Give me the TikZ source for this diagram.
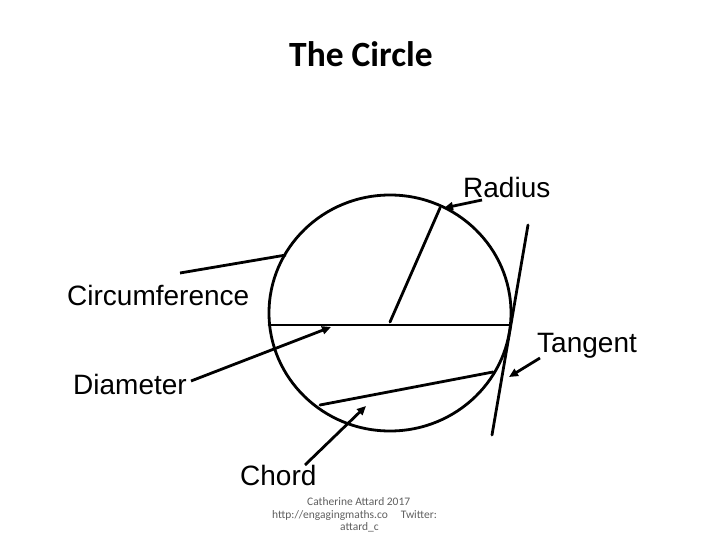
\documentclass[tikz,border=0pt]{standalone}
\usepackage{fontspec}
\setmainfont{Liberation Sans}
\newfontfamily\calibri{Carlito}
\usetikzlibrary{arrows.meta}
\definecolor{footgray}{RGB}{95,95,95}
\tikzset{
  shape line/.style={line width=2.8pt, line cap=round},
  pointer/.style={line width=2.8pt, -{Triangle[length=9pt,width=8pt]}},
  plainpointer/.style={line width=2.8pt},
  lbl/.style={anchor=base west, inner sep=0pt, font=\fontsize{28}{30}\selectfont},
  foot/.style={anchor=base west, inner sep=0pt, text=footgray, font=\calibri\fontsize{11.5}{13}\selectfont},
}
\begin{document}
\begin{tikzpicture}[x=1pt,y=-1pt]
\useasboundingbox (0,0) rectangle (720,540);
% title
\node[anchor=base west, inner sep=0pt, font=\calibri\bfseries\fontsize{35.5}{40}\selectfont] (title) at (289,67) {The Circle};
% circle
\coordinate (c) at (390,313);
\draw[shape line] (c) ellipse[x radius=121pt, y radius=118pt];
% diameter
\coordinate (dL) at (269,325);
\coordinate (dR) at (509,325);
\draw[shape line] (dL) -- (dR);
% radius
\coordinate (r0) at (390,322);
\coordinate (r1) at (440,208);
\draw[shape line] (r0) -- (r1);
% chord
\coordinate (ch0) at (320,405);
\coordinate (ch1) at (493,372);
\draw[shape line] (ch0) -- (ch1);
% tangent
\coordinate (t0) at (528,225);
\coordinate (t1) at (492,435);
\draw[shape line] (t0) -- (t1);
% labels
\node[lbl] (radius) at (463,197) {Radius};
\node[lbl] (circ) at (67,305) {Circumference};
\node[lbl] (tangent) at (537,352) {Tangent};
\node[lbl] (diam) at (73,394) {Diameter};
\node[lbl] (chord) at (240,485) {Chord};
% pointers
\coordinate (pr0) at (482,200);
\coordinate (pr1) at (444,208);
\draw[pointer] (pr0) -- (pr1);
\coordinate (pc0) at (180,273);
\coordinate (pc1) at (286,255);
\draw[plainpointer] (pc0) -- (pc1);
\coordinate (pd0) at (191,381);
\coordinate (pd1) at (331,327);
\draw[pointer] (pd0) -- (pd1);
\coordinate (pch0) at (305,465);
\coordinate (pch1) at (366,406);
\draw[pointer] (pch0) -- (pch1);
\coordinate (pt0) at (540,358);
\coordinate (pt1) at (509,377);
\draw[pointer] (pt0) -- (pt1);
% footer
\node[foot] (f1) at (307,505) {Catherine Attard 2017};
\node[foot] (f2) at (272,518) {http://engagingmaths.co\hspace{13pt}Twitter:};
\node[foot] (f3) at (340,530) {attard\_c};
\end{tikzpicture}
\end{document}
